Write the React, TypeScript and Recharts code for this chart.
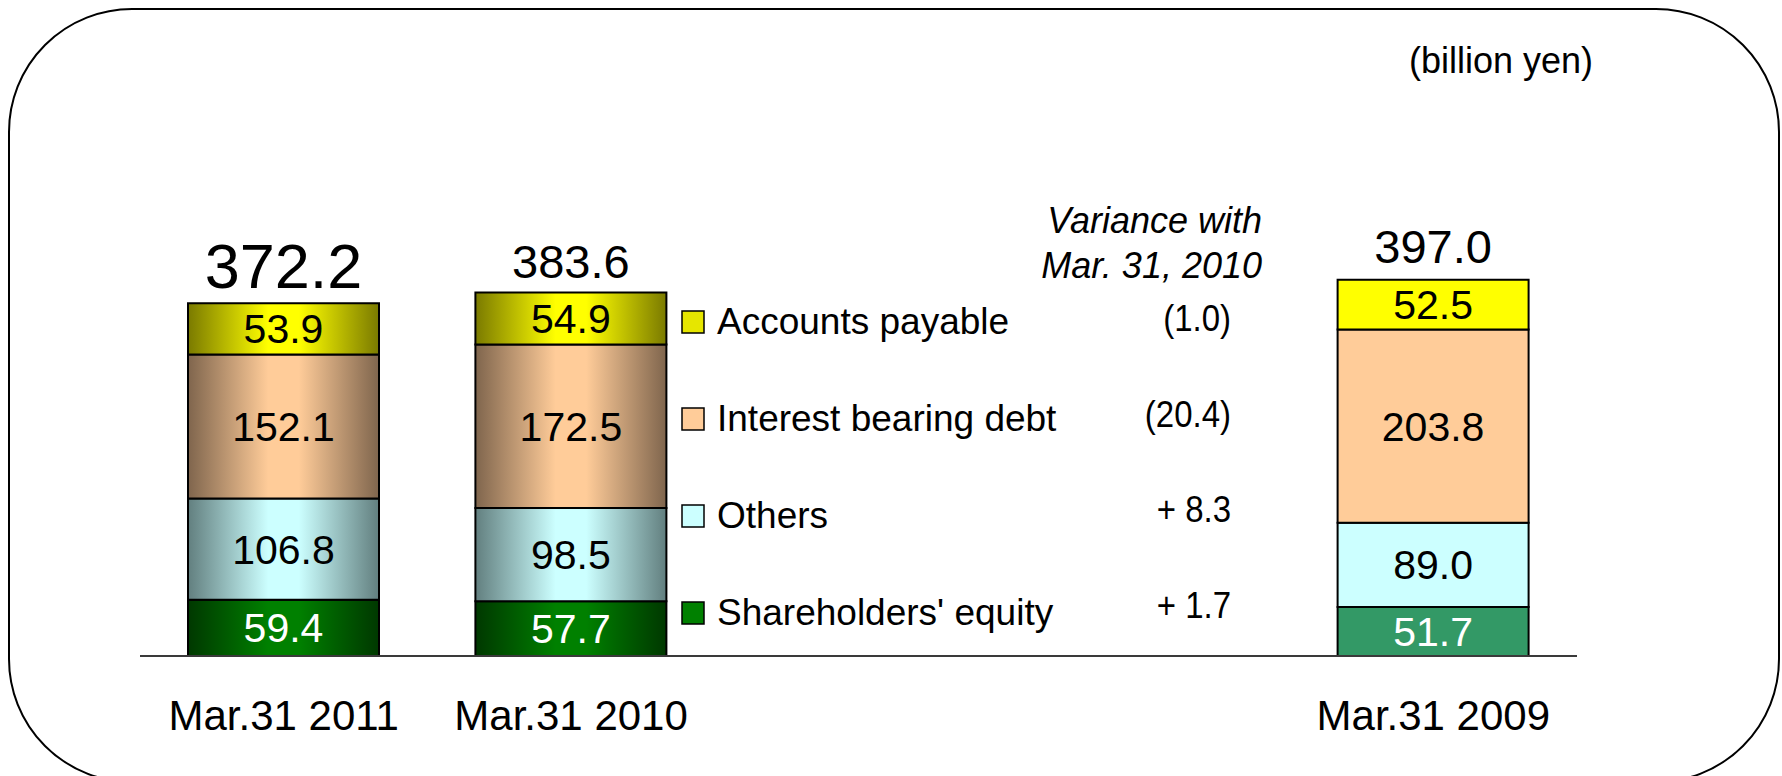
import React from 'react'
import { BarChart, Bar, XAxis, YAxis, LabelList, Legend } from 'recharts'

// values in billion yen
const categories = ['Mar.31 2011', 'Mar.31 2010', 'Mar.31 2009']
const equity = [59.4, 57.7, 51.7]
const others = [106.8, 98.5, 89.0]
const debt = [152.1, 172.5, 203.8]
const payables = [53.9, 54.9, 52.5]

const seriesKeys = ['equity', 'others', 'debt', 'payables']
const seriesNames = ["Shareholders' equity", 'Others', 'Interest bearing debt', 'Accounts payable']
const seriesValues = [equity, others, debt, payables]

const rows = categories.map((name, i) => ({
  name,
  equity: equity[i],
  others: others[i],
  debt: debt[i],
  payables: payables[i],
  total: equity[i] + others[i] + debt[i] + payables[i],
}))

// change of each item between the first two dates
const variance: Record<string, number> = {}
seriesKeys.forEach((k, i) => {
  variance[k] = seriesValues[i][0] - seriesValues[i][1]
})

const FONT = '"Liberation Sans", Arial, Helvetica, sans-serif'
const W = 1782
const H = 776
const SLOT = (1577 - 140) / 5

const gradColors: Record<string, [string, string]> = {
  equity: ['#003800', '#008000'],
  others: ['#627f7f', '#ccffff'],
  debt: ['#7f654d', '#ffcc99'],
  payables: ['#7a7a00', '#ffff00'],
}
const flatColors: Record<string, string> = {
  equity: '#339966',
  others: '#ccffff',
  debt: '#ffcc99',
  payables: '#ffff00',
}
const legendColors: Record<string, string> = {
  equity: '#008000',
  others: '#ccffff',
  debt: '#ffcc99',
  payables: '#e6e600',
}
const labelColors: Record<string, string> = {
  equity: '#ffffff',
  others: '#000000',
  debt: '#000000',
  payables: '#000000',
}

function fmtVariance(v: number) {
  if (v < 0) return `(${Math.abs(v).toFixed(1)})`
  return `+ ${v.toFixed(1)}`
}

function boxOf(props: any) {
  const vb = props.viewBox ?? props
  const h = Number(vb.height) || 0
  return {
    x: Number(vb.x),
    y: h < 0 ? Number(vb.y) + h : Number(vb.y),
    width: Number(vb.width),
    height: Math.abs(h),
  }
}

const segmentLabel = (color: string) => (props: any) => {
  const b = boxOf(props)
  return (
    <text
      x={b.x + b.width / 2}
      y={b.y + b.height / 2 + 41 * 0.355}
      textAnchor="middle"
      fontSize={41}
      fontFamily={FONT}
      fill={color}
    >
      {Number(props.value).toFixed(1)}
    </text>
  )
}

const totalLabel = (sizes: number[], gap: number) => (props: any) => {
  const b = boxOf(props)
  const size = sizes[props.index ?? 0] ?? sizes[0]
  return (
    <text
      x={b.x + b.width / 2}
      y={b.y - gap}
      textAnchor="middle"
      fontSize={size}
      fontFamily={FONT}
      fill="#000"
    >
      {Number(props.value).toFixed(1)}
    </text>
  )
}

const CategoryTick = (props: any) => {
  const { x, y, payload } = props
  return (
    <text x={x} y={y} dy={74} textAnchor="middle" fontSize={42} fontFamily={FONT} fill="#000">
      {payload.value}
    </text>
  )
}

const renderLegend = () => {
  const items = seriesKeys.map((k, i) => ({ key: k, name: seriesNames[i] })).reverse()
  return (
    <svg width={W} height={H} style={{ position: 'absolute', left: 0, top: 0 }}>
      <text x={1593} y={73} textAnchor="end" fontSize={36} fontFamily={FONT} fill="#000">
        (billion yen)
      </text>
      <g fontFamily={FONT} fontSize={36} fontStyle="italic" fill="#000" textAnchor="end">
        <text x={1262} y={233}>Variance with</text>
        <text x={1262} y={278}>Mar. 31, 2010</text>
      </g>
      {items.map((it, i) => {
        const top = 311 + i * 97
        return (
          <g key={it.key}>
            <rect x={682} y={top} width={22} height={22} fill={legendColors[it.key]} stroke="#000" strokeWidth={1.5} />
            <text x={717} y={top + 23} fontSize={37} fontFamily={FONT} fill="#000">
              {it.name}
            </text>
            <text
              transform={`translate(1231 ${top + 20 - i * 1.5}) scale(1 1.12)`}
              textAnchor="end"
              fontSize={33}
              fontFamily={FONT}
              fill="#000"
            >
              {fmtVariance(variance[it.key])}
            </text>
          </g>
        )
      })}
    </svg>
  )
}

const layer: React.CSSProperties = { position: 'absolute', left: 0, top: 0 }

export default function App() {
  return (
    <div style={{ position: 'absolute', left: 0, top: 0, width: W, height: H, overflow: 'hidden', background: '#fff' }}>
      {/* current and previous year, with gradient fills */}
      <div style={layer}>
        <BarChart
          width={W}
          height={H}
          data={rows.slice(0, 2)}
          margin={{ top: 277, right: W - 140 - 2 * SLOT, bottom: 40, left: 140 }}
          barCategoryGap={0}
        >
          <defs>
            {seriesKeys.map((k) => (
              <linearGradient key={k} id={`grad-${k}`} x1="0" y1="0" x2="1" y2="0">
                <stop offset="0" stopColor={gradColors[k][0]} />
                <stop offset="0.42" stopColor={gradColors[k][1]} />
                <stop offset="0.58" stopColor={gradColors[k][1]} />
                <stop offset="1" stopColor={gradColors[k][0]} />
              </linearGradient>
            ))}
          </defs>
          <XAxis
            dataKey="name"
            axisLine={false}
            tickLine={false}
            tickSize={0}
            tickMargin={0}
            height={80}
            tick={<CategoryTick />}
            interval={0}
          />
          <YAxis hide domain={[0, 400]} />
          <Legend
            content={renderLegend}
            verticalAlign="middle"
            layout="horizontal"
            wrapperStyle={{ position: 'absolute', left: 0, top: 0, width: W, height: H }}
          />
          {seriesKeys.map((k, i) => (
            <Bar
              key={k}
              dataKey={k}
              name={seriesNames[i]}
              stackId="a"
              barSize={191}
              fill={`url(#grad-${k})`}
              stroke="#000"
              strokeWidth={2}
              isAnimationActive={false}
            >
              <LabelList dataKey={k} content={segmentLabel(labelColors[k])} />
              {k === 'payables' && <LabelList dataKey="total" content={totalLabel([63, 47], 15)} />}
            </Bar>
          ))}
        </BarChart>
      </div>

      {/* comparison year, flat fills, owns the base line */}
      <div style={layer}>
        <BarChart
          width={W}
          height={H}
          data={rows.slice(2)}
          margin={{ top: 277, right: W - 1577, bottom: 40, left: 140 }}
          barCategoryGap={0}
        >
          <XAxis
            dataKey="name"
            padding={{ left: 4 * SLOT, right: 0 }}
            axisLine={{ stroke: '#3a3a3a', strokeWidth: 2 }}
            tickLine={false}
            tickSize={0}
            tickMargin={0}
            height={80}
            tick={<CategoryTick />}
            interval={0}
          />
          <YAxis hide domain={[0, 400]} />
          {seriesKeys.map((k, i) => (
            <Bar
              key={k}
              dataKey={k}
              name={seriesNames[i]}
              stackId="b"
              barSize={191}
              fill={flatColors[k]}
              stroke="#000"
              strokeWidth={2}
              isAnimationActive={false}
            >
              <LabelList dataKey={k} content={segmentLabel(labelColors[k])} />
              {k === 'payables' && <LabelList dataKey="total" content={totalLabel([47], 17)} />}
            </Bar>
          ))}
        </BarChart>
      </div>

      {/* rounded frame of the slide */}
      <div
        style={{
          position: 'absolute',
          left: 8,
          top: 8,
          width: 1772,
          height: 775,
          boxSizing: 'border-box',
          border: '2px solid #000',
          borderRadius: 124,
          pointerEvents: 'none',
        }}
      />
    </div>
  )
}
